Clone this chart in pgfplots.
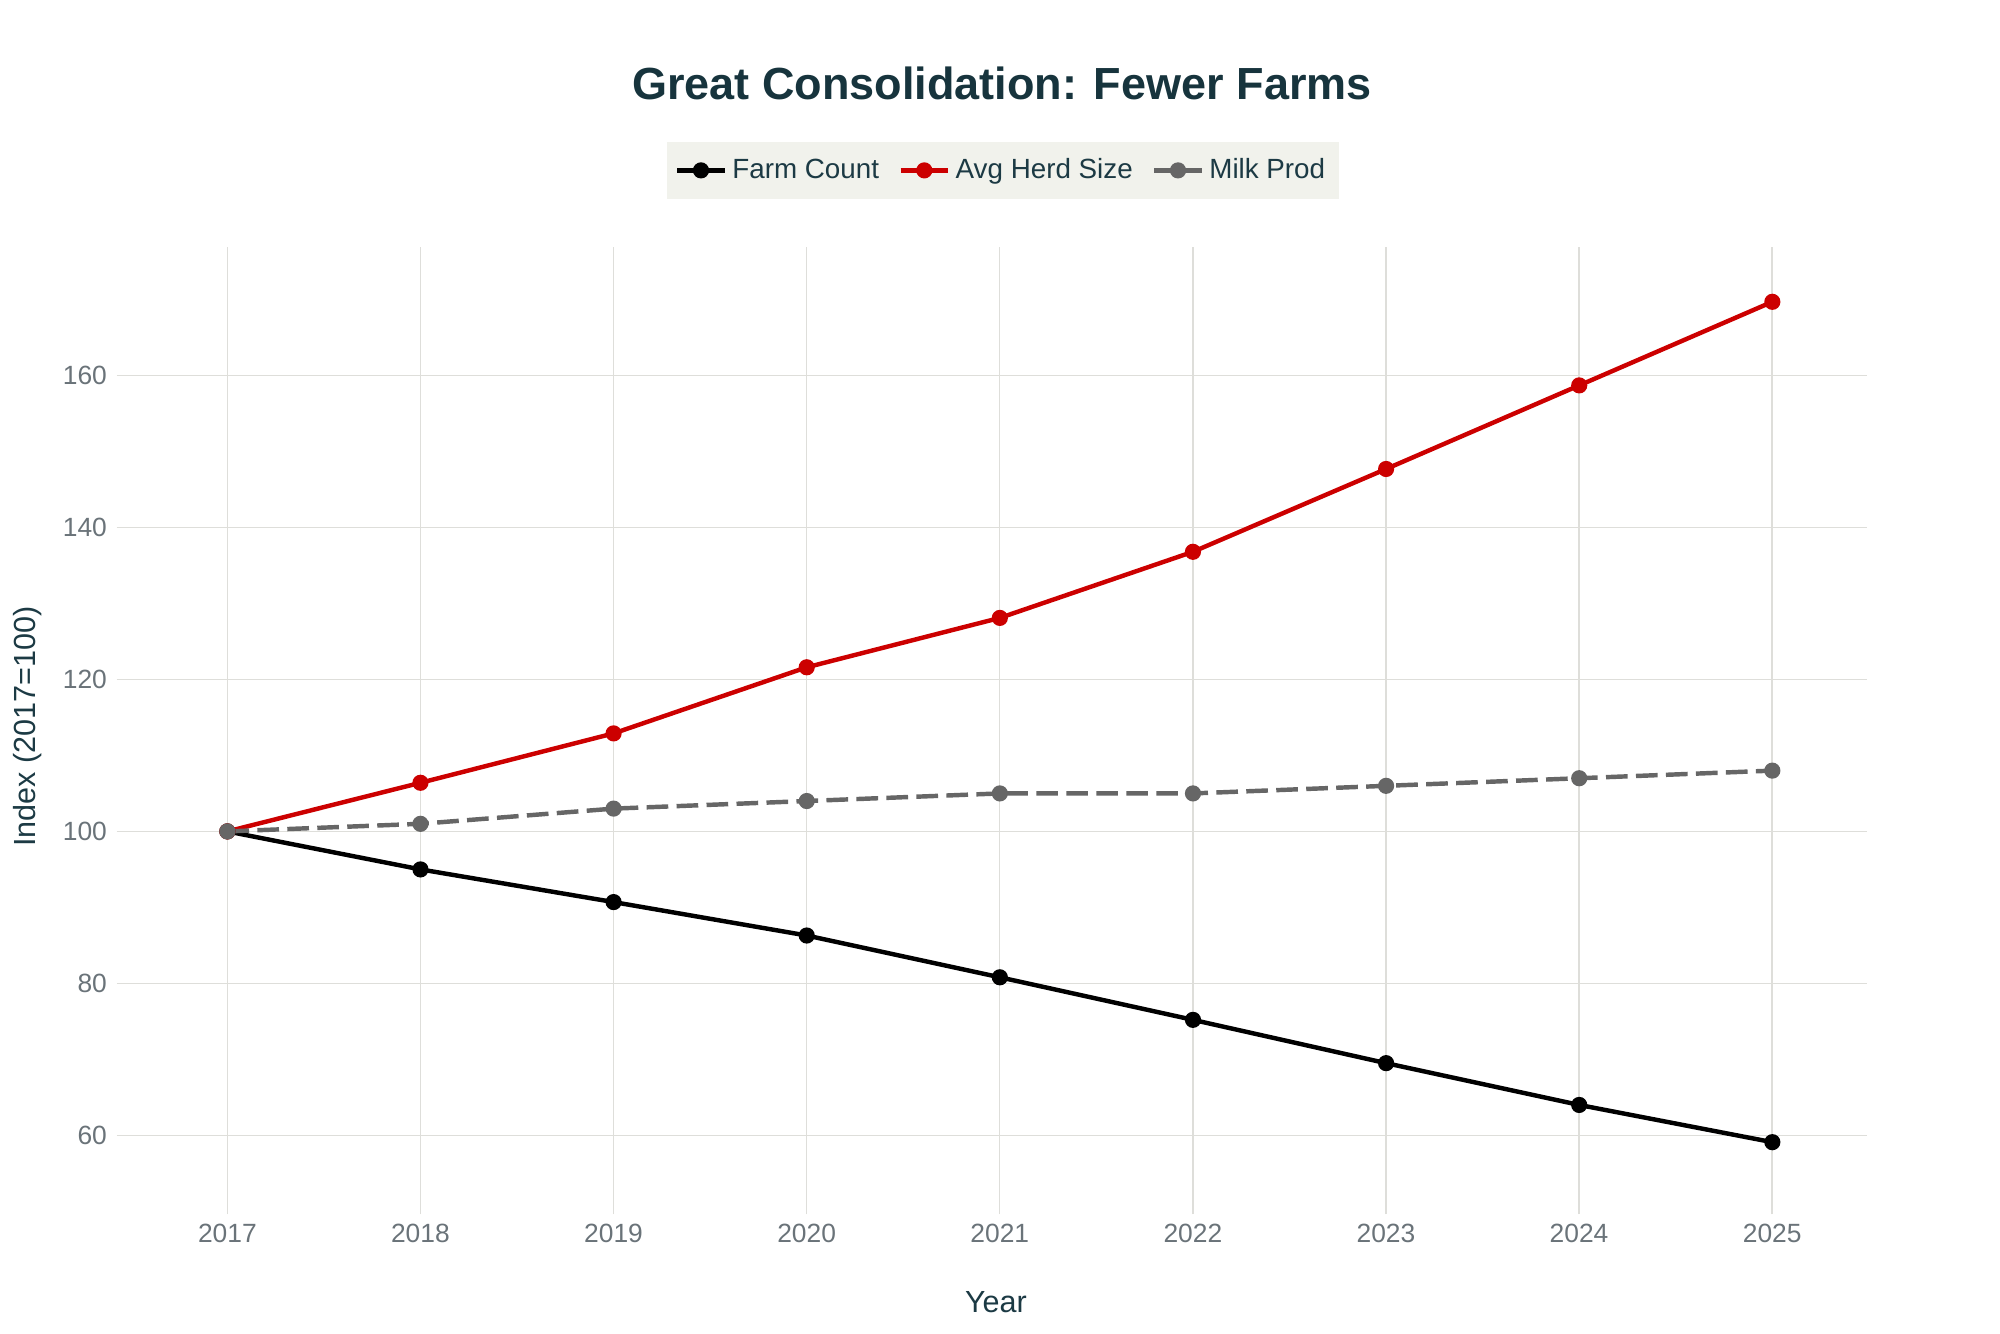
\documentclass[border=0pt]{standalone}
\usepackage{pgfplots}
\pgfplotsset{compat=1.18}
\usepackage{fontspec}
\setmainfont{Liberation Sans}

\definecolor{titlecol}{HTML}{17343D}
\definecolor{labelcol}{HTML}{1C3A44}
\definecolor{tickcol}{HTML}{6A7379}
\definecolor{gridcol}{HTML}{DEDEDA}
\definecolor{legbg}{HTML}{F1F2EC}
\definecolor{herd}{HTML}{CC0000}
\definecolor{milk}{HTML}{666666}

\begin{document}
\begin{tikzpicture}
    \path[use as bounding box] (0,0) rectangle (720pt,479.88pt);
    \node[font=\fontsize{16.2}{18}\selectfont\bfseries, text=titlecol] at (360.7pt,450pt) {Great Consolidation: Fewer Farms};
    \begin{axis}[
        at={(45pt,45.72pt)}, anchor=south west,
        scale only axis,
        width=627.1pt, height=345.2pt,
        xmin=2016.47, xmax=2025.49,
        ymin=50.7, ymax=176.9,
        xtick={2017,...,2025},
        ytick={60,80,...,160},
        x tick label style={/pgf/number format/1000 sep={}},
        /pgf/number format/assume math mode=true,
        tick label style={font=\fontsize{9.5}{11}\selectfont, text=tickcol},
        xmajorgrids, ymajorgrids,
        grid style={gridcol, line width=0.5pt},
        axis line style={draw=none},
        tick align=outside,
        major tick length=3pt,
        tick style={gridcol, line width=0.5pt},
        xtick pos=bottom, ytick pos=left,
        xlabel={Year}, ylabel={Index (2017=100)},
        label style={font=\fontsize{11}{13}\selectfont, text=labelcol},
        xlabel style={at={(axis description cs:0.5,0)}, anchor=center, yshift=-34.6pt},
        ylabel style={at={(axis description cs:-0.0558,0.5)}, anchor=center},
        legend columns=3,
        legend style={at={(axis description cs:0.504,1.08)}, anchor=center,
            fill=legbg, draw=none, font=\fontsize{10}{12}\selectfont, text=labelcol,
            inner xsep=3pt, inner ysep=4pt,
            /tikz/every even column/.append style={column sep=5pt}},
        legend image code/.code={
            \draw[#1, mark repeat=2, mark phase=2] plot coordinates {(0pt,0pt) (8.5pt,0pt) (17pt,0pt)};
        },
        every axis plot/.append style={line width=1.6pt, mark=*, mark size=2.1pt},
    ]
    \addplot[black, mark options={solid}] coordinates {
        (2017,100) (2018,95.0) (2019,90.7) (2020,86.3) (2021,80.8)
        (2022,75.2) (2023,69.5) (2024,64.0) (2025,59.1)
    };
    \addlegendentry{Farm Count}
    \addplot[herd, mark options={solid}] coordinates {
        (2017,100) (2018,106.4) (2019,112.9) (2020,121.6) (2021,128.1)
        (2022,136.8) (2023,147.7) (2024,158.7) (2025,169.7)
    };
    \addlegendentry{Avg Herd Size}
    \addplot[milk, dash pattern=on 7.8pt off 3pt, mark options={solid}] coordinates {
        (2017,100) (2018,101) (2019,103) (2020,104) (2021,105)
        (2022,105) (2023,106) (2024,107) (2025,108)
    };
    \addlegendentry{Milk Prod}
    \end{axis}
\end{tikzpicture}
\end{document}
